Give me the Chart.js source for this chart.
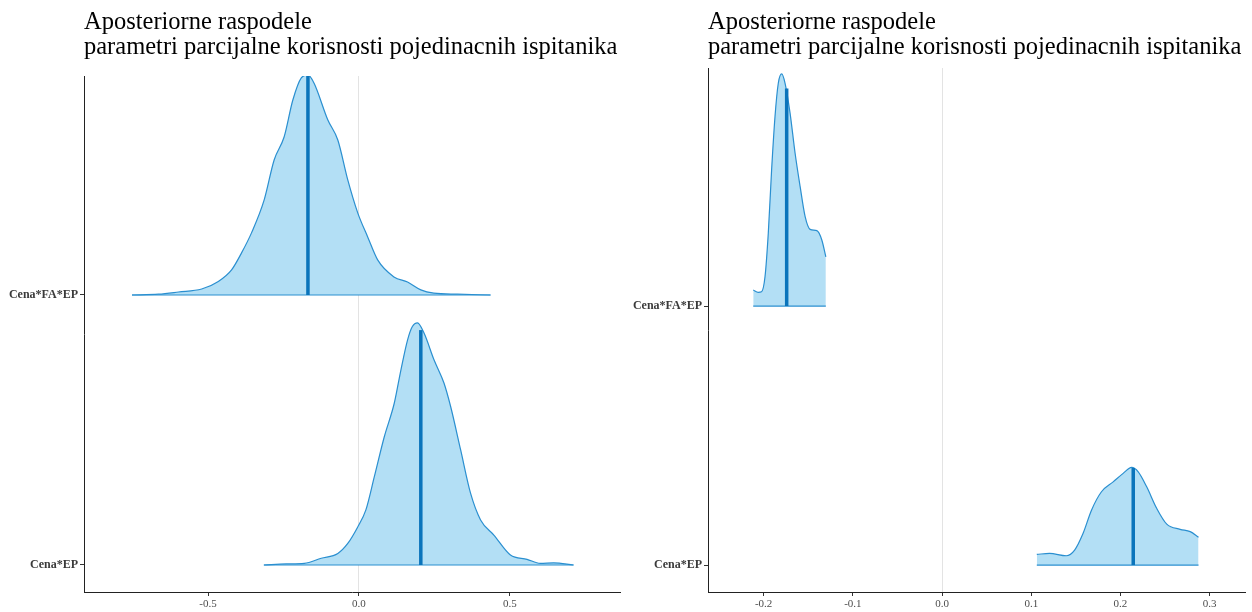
<!DOCTYPE html>
<html>
<head>
<meta charset="utf-8">
<script src="https://cdn.jsdelivr.net/npm/chart.js@4.4.1/dist/chart.umd.min.js"></script>
<style>
  body { margin: 0; background: #fff; }
  .row { display: flex; width: 1252px; height: 612px; }
</style>
</head>
<body>
<div class="row">
  <canvas id="leftChart" width="626" height="612"></canvas>
  <canvas id="rightChart" width="626" height="612"></canvas>
</div>
<script>
const titleLines = ["Aposteriorne raspodele", "parametri parcijalne korisnosti pojedinacnih ispitanika"];
const params = ["Cena*FA*EP", "Cena*EP"];
const rowPos = [2, 1];

// left panel: posterior densities (x value, height above row baseline)
const leftXTicks = [-0.5, 0, 0.5];
const leftFaX = [-0.752, -0.664, -0.598, -0.521, -0.466, -0.422, -0.389, -0.356, -0.314, -0.281, -0.248, -0.219, -0.191, -0.169, -0.149, -0.103, -0.070, -0.037, -0.004, 0.029, 0.062, 0.116, 0.161, 0.205, 0.248, 0.326, 0.436];
const leftFaH = [0, 0.003, 0.011, 0.022, 0.050, 0.093, 0.156, 0.230, 0.352, 0.500, 0.585, 0.722, 0.804, 0.815, 0.785, 0.648, 0.574, 0.426, 0.304, 0.215, 0.130, 0.067, 0.048, 0.019, 0.007, 0.003, 0];
const leftEpX = [-0.315, -0.241, -0.181, -0.125, -0.070, -0.037, -0.004, 0.023, 0.051, 0.084, 0.117, 0.139, 0.161, 0.177, 0.194, 0.216, 0.249, 0.282, 0.304, 0.337, 0.370, 0.403, 0.447, 0.502, 0.557, 0.601, 0.645, 0.711];
const leftEpH = [0, 0.004, 0.006, 0.025, 0.043, 0.080, 0.141, 0.204, 0.327, 0.475, 0.599, 0.722, 0.833, 0.883, 0.897, 0.858, 0.759, 0.673, 0.586, 0.426, 0.265, 0.167, 0.111, 0.037, 0.021, 0.006, 0.008, 0];
const leftMedians = [-0.169, 0.205];
const leftMedianH = [0.815, 0.87];

// right panel
const rightXTicks = [-0.2, -0.1, 0, 0.1, 0.2, 0.3];
const rightFaX = [-0.2117, -0.2061, -0.2024, -0.1985, -0.1948, -0.1911, -0.1873, -0.1836, -0.1798, -0.1760, -0.1704, -0.1648, -0.1591, -0.1535, -0.1479, -0.1404, -0.1348, -0.1303];
const rightFaH = [0.062, 0.053, 0.055, 0.113, 0.282, 0.525, 0.731, 0.860, 0.896, 0.860, 0.745, 0.591, 0.461, 0.345, 0.296, 0.291, 0.255, 0.190];
const rightEpX = [0.1062, 0.1205, 0.1393, 0.1486, 0.1580, 0.1675, 0.1787, 0.1918, 0.2030, 0.2125, 0.2199, 0.2294, 0.2406, 0.2519, 0.2669, 0.2782, 0.2875];
const rightEpH = [0.041, 0.045, 0.036, 0.058, 0.122, 0.212, 0.283, 0.321, 0.354, 0.377, 0.360, 0.302, 0.219, 0.158, 0.138, 0.129, 0.107];
const rightMedians = [-0.1742, 0.2143];
const rightMedianH = [0.84, 0.375];

const fillColor = "#b3dff5";
const lineColor = "#2a8fd0";
const medianColor = "#0a74bb";

const titlePlugin = {
    id: "panelTitle",
    afterDraw(chart) {
        const ctx = chart.ctx;
        ctx.save();
        ctx.font = '24.5px "Liberation Serif"';
        ctx.fillStyle = "#000";
        ctx.textBaseline = "alphabetic";
        titleLines.forEach((t, i) => ctx.fillText(t, chart.chartArea.left, 29 + 25 * i));
        ctx.restore();
    }
};

function rowDatasets(xs, hs, base, med, medH) {
    return [
        {
            data: xs.map((x, i) => ({ x: x, y: base + hs[i] })),
            showLine: true,
            fill: { value: base },
            backgroundColor: fillColor,
            borderColor: lineColor,
            borderWidth: 1.2,
            pointRadius: 0,
            cubicInterpolationMode: "monotone",
            order: 3,
        },
        {
            data: [{ x: xs[0], y: base }, { x: xs[xs.length - 1], y: base }],
            showLine: true,
            borderColor: lineColor,
            borderWidth: 1.2,
            pointRadius: 0,
            order: 2,
        },
        {
            data: [{ x: med, y: base }, { x: med, y: base + medH }],
            showLine: true,
            borderColor: medianColor,
            borderWidth: 3.5,
            borderCapStyle: "butt",
            pointRadius: 0,
            order: 1,
        },
    ];
}

function makePanel(id, p) {
    const datasets = [
        ...rowDatasets(p.faX, p.faH, rowPos[0], p.medians[0], p.medianH[0]),
        ...rowDatasets(p.epX, p.epH, rowPos[1], p.medians[1], p.medianH[1]),
    ];
    return new Chart(document.getElementById(id), {
        type: "scatter",
        data: { datasets: datasets },
        plugins: [titlePlugin],
        options: {
            responsive: false,
            animation: false,
            layout: { padding: { left: 0, top: p.top, right: p.right, bottom: 0 } },
            plugins: {
                legend: { display: false },
                tooltip: { enabled: false },
                title: { display: false },
            },
            scales: {
                x: {
                    type: "linear",
                    min: p.xmin,
                    max: p.xmax,
                    afterBuildTicks: (scale) => { scale.ticks = p.xTicks.map(v => ({ value: v })); },
                    afterFit: (scale) => { scale.height = 20; },
                    ticks: {
                        callback: (v) => Number(v).toFixed(1),
                        font: { family: "Liberation Serif", size: 11 },
                        color: "#4d4d4d",
                        padding: 2,
                        maxRotation: 0,
                    },
                    grid: {
                        color: (ctx) => (ctx.tick && ctx.tick.value === 0 ? "#e3e3e3" : "rgba(0,0,0,0)"),
                        tickColor: "#333",
                        tickLength: 4,
                    },
                    border: { color: "#222", width: 1 },
                },
                y: {
                    type: "linear",
                    min: p.ymin,
                    max: p.ymax,
                    afterBuildTicks: (scale) => { scale.ticks = rowPos.map(v => ({ value: v })); },
                    afterFit: (scale) => { scale.width = p.yWidth; },
                    ticks: {
                        callback: (v) => params[rowPos.indexOf(v)],
                        font: { family: "Liberation Serif", size: 12, weight: "bold" },
                        color: "#3a3a3a",
                        padding: 2,
                    },
                    grid: {
                        color: "rgba(0,0,0,0)",
                        tickColor: "#333",
                        tickLength: 4,
                    },
                    border: { color: "#222", width: 1 },
                },
            },
        },
    });
}

makePanel("leftChart", {
    faX: leftFaX, faH: leftFaH, epX: leftEpX, epH: leftEpH,
    medians: leftMedians, medianH: leftMedianH,
    xTicks: leftXTicks, xmin: -0.911, xmax: 0.865,
    ymin: 0.9, ymax: 2.811,
    top: 76, right: 6, yWidth: 84,
});

makePanel("rightChart", {
    faX: rightFaX, faH: rightFaH, epX: rightEpX, epH: rightEpH,
    medians: rightMedians, medianH: rightMedianH,
    xTicks: rightXTicks, xmin: -0.2624, xmax: 0.3396,
    ymin: 0.896, ymax: 2.919,
    top: 68, right: 7, yWidth: 82,
});
</script>
</body>
</html>
